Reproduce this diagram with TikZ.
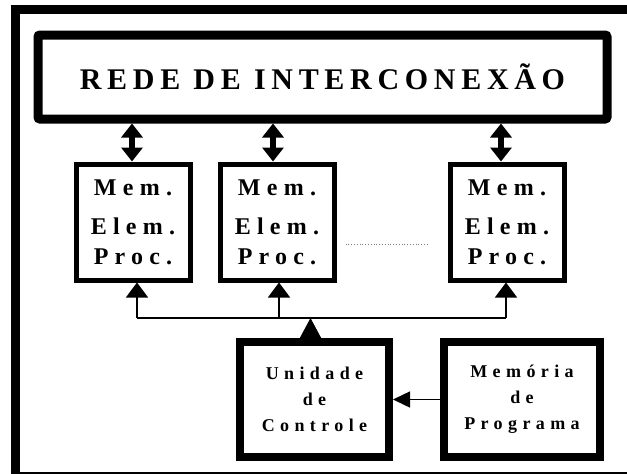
\documentclass[tikz,border=0pt]{standalone}
\usepackage{fontspec}
\setmainfont{Liberation Serif}
\newfontfamily\netfont[LetterSpace=19]{Liberation Serif}
\newfontfamily\pefont[LetterSpace=26]{Liberation Serif}
\newfontfamily\ctlfont[LetterSpace=30]{Liberation Serif}
\usetikzlibrary{arrows.meta,positioning}

\begin{document}
\begin{tikzpicture}[x=1pt,y=-1pt,
    netbox/.style={draw,line width=9pt,rounded corners=2pt,inner sep=0pt,
      minimum width=569pt,minimum height=84pt,
      font=\netfont\bfseries\fontsize{30}{36}\selectfont},
    pebox/.style={draw,line width=5pt,inner sep=0pt,align=center,
      minimum width=114pt,minimum height=116pt,
      font=\pefont\bfseries\fontsize{24}{30}\selectfont},
    ctlbox/.style={draw,line width=8pt,inner sep=0pt,align=center,
      minimum height=115pt,
      font=\ctlfont\bfseries\fontsize{18}{26}\selectfont},
    dbl/.style={{Triangle[width=21pt,length=14pt]}-{Triangle[width=21pt,length=14pt]},line width=6.5pt},
    feed/.style={-{Triangle[width=22pt,length=15pt]},line width=1.5pt}
    ]

    \useasboundingbox (0,0) rectangle (627,474);
    \draw[line width=9pt] (15,9) rectangle (700,476);

    \node (net) [netbox] at (322.5,77) {REDE DE INTERCONEXÃO};

    \node (pe1) [pebox] at (133,222) {Mem.\\[9pt]Elem.\\Proc.};
    \node (pe2) [pebox,right=25pt of pe1] {Mem.\\[9pt]Elem.\\Proc.};
    \node (pe3) [pebox,right=111pt of pe2] {Mem.\\[9pt]Elem.\\Proc.};

    \node (uc) [ctlbox,minimum width=149pt] at (314.5,399.5) {Unidade\\de\\Controle};
    \node (mp) [ctlbox,minimum width=156pt,right=47pt of uc] {Memória\\de\\Programa};

    \coordinate (bus) at (0,318);

    \foreach \i/\d in {1/-1,2/-4,3/-6}
      \draw[dbl] ([xshift=\d pt]net.south -| pe\i.north) -- ([xshift=\d pt]pe\i.north);

    \draw[line width=1.5pt] ([xshift=4pt]pe1.south |- bus) -- ([xshift=-1pt]pe3.south |- bus);
    \foreach \i/\d in {1/4,2/2,3/-1}
      \draw[feed] ([xshift=\d pt]pe\i.south |- bus) -- ([xshift=\d pt]pe\i.south);

    \draw[-{Triangle[width=21pt,length=20pt]},line width=1.5pt]
      ([xshift=-4pt]uc.north) -- ([xshift=-4pt]uc.north |- bus);
    \draw[-{Triangle[width=16pt,length=17pt]},line width=1.5pt] (mp.west) -- (uc.east);

    \draw[dotted,gray,line width=0.8pt] ([xshift=9pt,yshift=-22pt]pe2.east) -- ([xshift=-20pt,yshift=-22pt]pe3.west);

  \end{tikzpicture}
\end{document}
